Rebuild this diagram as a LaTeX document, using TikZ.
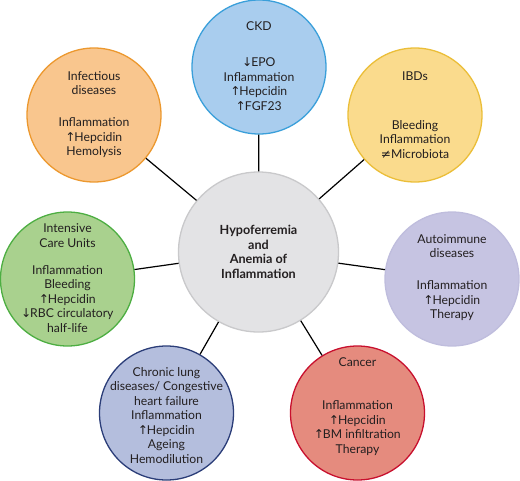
\documentclass[tikz,border=0pt]{standalone}
\usepackage{fontspec}
\setmainfont{Lato}
\newfontfamily\arrfont{DejaVu Sans}
\newcommand{\up}{{\arrfont\kern-0.5pt↑\kern-1pt}}
\newcommand{\dn}{{\arrfont\kern-0.5pt↓\kern-1pt}}
\newcommand{\neqsym}{{\arrfont≠}}
\definecolor{txt}{HTML}{231F20}
\definecolor{ckdF}{HTML}{A9CDEE}\definecolor{ckdD}{HTML}{3A9FDA}
\definecolor{infF}{HTML}{F9C68E}\definecolor{infD}{HTML}{EC982E}
\definecolor{ibdF}{HTML}{FADB8D}\definecolor{ibdD}{HTML}{EBBE38}
\definecolor{icuF}{HTML}{A9D18E}\definecolor{icuD}{HTML}{4DAE42}
\definecolor{autF}{HTML}{C6C4E2}\definecolor{autD}{HTML}{BFBDDD}
\definecolor{clF}{HTML}{B4BEDD}\definecolor{clD}{HTML}{2B3D78}
\definecolor{canF}{HTML}{E58B7E}\definecolor{canD}{HTML}{C8102E}
\definecolor{cenF}{HTML}{E3E3E5}\definecolor{cenD}{HTML}{C9C9CB}
\tikzset{
  bubble/.style={circle, minimum size=134pt, inner sep=0pt, line width=1.3pt},
  hub/.style={circle, minimum size=160pt, inner sep=0pt, line width=1.3pt, fill=cenF, draw=cenD},
  label/.style={align=center, text=txt, font=\fontsize{12.2}{14.5}\selectfont, inner sep=0pt},
  hublabel/.style={label, font=\fontsize{12.6}{14.7}\selectfont\bfseries},
  link/.style={line width=1.2pt, black}
}
\begin{document}
\begin{tikzpicture}[x=1pt,y=-1pt]
\useasboundingbox (0,0) rectangle (520,480);
% circles
\node[hub] (hub) at (258.5,252) {};
\node[bubble, fill=ckdF, draw=ckdD] (ckd) at (259,67) {};
\node[bubble, fill=infF, draw=infD] (inf) at (94,115) {};
\node[bubble, fill=ibdF, draw=ibdD] (ibd) at (415,115) {};
\node[bubble, fill=icuF, draw=icuD] (icu) at (67.5,279) {};
\node[bubble, fill=autF, draw=autD] (aut) at (452,279) {};
\node[bubble, fill=clF, draw=clD] (cl) at (166.5,413) {};
\node[bubble, fill=canF, draw=canD] (can) at (357.5,413) {};
% connectors
\foreach \n in {ckd,inf,ibd,icu,aut,cl,can} \draw[link] (hub) -- (\n);
% texts
\node[hublabel] (hub-t) at (258.5,252) {Hypoferremia\\and\\Anemia of\\Inflammation};
\node[label] (ckd-t) at (259,66) {CKD\\[21.5pt]\dn EPO\\Inflammation\\\up Hepcidin\\\up FGF23};
\node[label] (inf-t) at (94,114.5) {Infectious\\diseases\\[17.5pt]Inflammation\\\up Hepcidin\\Hemolysis};
\node[label] (ibd-t) at (415,115) {IBDs\\[34.5pt]Bleeding\\Inflammation\\\neqsym Microbiota};
\node[label] (icu-t) at (67.5,278) {Intensive\\Care Units\\[12.5pt]Inflammation\\Bleeding\\\up Hepcidin\\\dn RBC circulatory\\half-life};
\node[label] (aut-t) at (452,277.5) {Autoimmune\\diseases\\[17.5pt]Inflammation\\\up Hepcidin\\Therapy};
\node[label] (cl-t) at (166.5,415.5) {Chronic lung\\diseases/ Congestive\\heart failure\\Inflammation\\\up Hepcidin\\Ageing\\Hemodilution};
\node[label] (can-t) at (357.5,406.5) {Cancer\\[28.5pt]Inflammation\\\up Hepcidin\\\up BM infiltration\\Therapy};
\end{tikzpicture}
\end{document}
